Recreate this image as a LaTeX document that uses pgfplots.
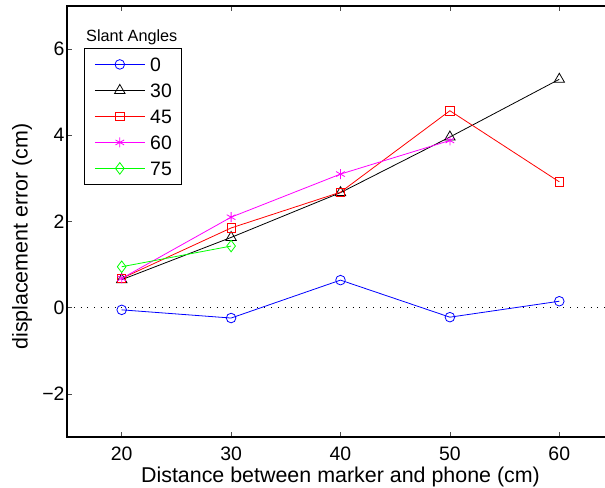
\documentclass[border=0pt]{standalone}
\usepackage{fontspec}
\setmainfont{Liberation Sans}
\usepackage{pgfplots}
\pgfplotsset{compat=1.18}

\definecolor{mblue}{rgb}{0,0,1}
\definecolor{mred}{rgb}{1,0,0}
\definecolor{mmag}{rgb}{1,0,1}
\definecolor{mgreen}{rgb}{0,1,0}

\begin{document}
\begin{tikzpicture}
\begin{axis}[
  at={(0,0)}, anchor=south west,
  scale only axis, width=547bp, height=431bp,
  xmin=15, xmax=65, ymin=-3, ymax=7,
  xtick={20,30,40,50,60}, xticklabels={20,30,40,50,60},
  ytick={-2,0,2,4,6}, yticklabels={−2,0,2,4,6},
  tick align=inside, major tick length=5bp,
  axis line style={line width=1.2bp},
  tick style={line width=0.6bp, black!70},
  ticklabel style={font=\fontsize{19.5}{22}\selectfont},
  xticklabel style={yshift=-6bp},
  yticklabel style={xshift=1bp},
  label style={font=\fontsize{21.5}{24}\selectfont},
  xlabel={Distance between marker and phone (cm)},
  ylabel={displacement error (cm)},
  xlabel style={at={(axis description cs:0.5,-0.1067)}, anchor=base},
  ylabel style={at={(axis description cs:-0.0722,0.465)}, anchor=base},
  every axis plot/.append style={line width=0.8bp},
  legend cell align=left,
  legend style={at={(0.031,0.9026)}, anchor=north west, draw=black, line width=0.9bp,
    font=\fontsize{19.5}{22}\selectfont, row sep=12bp, column sep=5bp,
    inner xsep=10bp, inner ysep=9bp,
    nodes={text height=14bp, text depth=0bp, inner sep=0bp}},
  legend image code/.code={\draw[mark repeat=2,mark phase=2] plot coordinates {(0bp,0bp)(25bp,0bp)(50bp,0bp)};},
]
\addplot[black, line width=0.6bp, dash pattern=on 0.8bp off 6bp, forget plot] coordinates {(15,0)(65,0)};
\addplot[mblue, mark=o, mark size=4.8bp] coordinates {(20,-0.05)(30,-0.24)(40,0.64)(50,-0.22)(60,0.15)};
\addlegendentry{0}
\addplot[black, mark=triangle, mark size=6bp] coordinates {(20,0.65)(30,1.63)(40,2.67)(50,3.96)(60,5.3)};
\addlegendentry{30}
\addplot[mred, mark=square, mark size=4.2bp] coordinates {(20,0.68)(30,1.85)(40,2.68)(50,4.57)(60,2.92)};
\addlegendentry{45}
\addplot[mmag, mark=asterisk, mark size=5bp] coordinates {(20,0.68)(30,2.1)(40,3.1)(50,3.88)};
\addlegendentry{60}
\addplot[mgreen, mark=diamond, mark size=5.8bp] coordinates {(20,0.95)(30,1.43)};
\addlegendentry{75}
\end{axis}
\node[anchor=base west, font=\fontsize{16.3}{18}\selectfont, inner sep=0pt] at (19bp,395bp) {Slant Angles};
\pgfresetboundingbox
\path[use as bounding box] (-67bp,-51bp) rectangle (538bp,437bp);
\end{tikzpicture}
\end{document}
